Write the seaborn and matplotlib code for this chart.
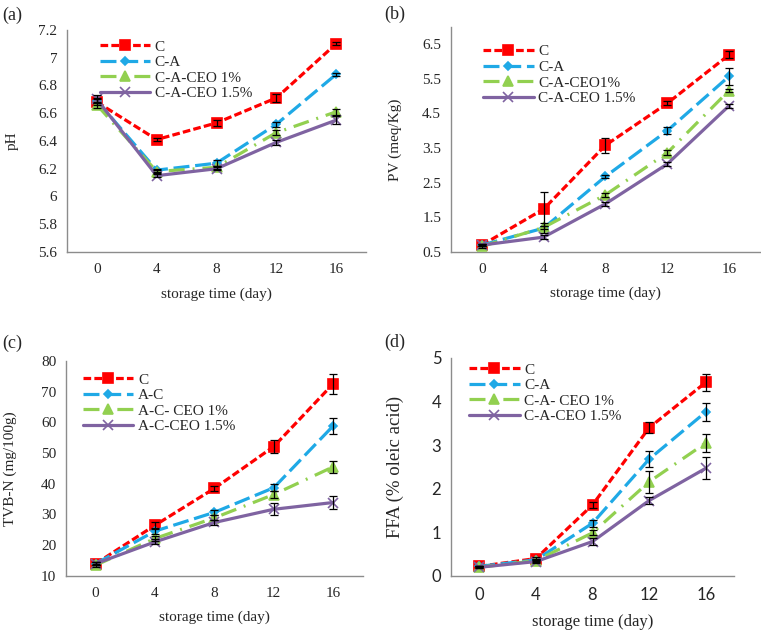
import numpy as np
import matplotlib
matplotlib.use("Agg")
import matplotlib.pyplot as plt
import seaborn as sns

sns.set_style("white")
plt.rcParams["font.family"] = ["Liberation Serif", "DejaVu Serif"]

days = ["0", "4", "8", "12", "16"]

# (a) pH
ph_c = [6.68, 6.41, 6.53, 6.71, 7.10]
ph_ca = [6.69, 6.19, 6.24, 6.52, 6.88]
ph_ceo1 = [6.66, 6.18, 6.21, 6.46, 6.61]
ph_ceo15 = [6.70, 6.15, 6.20, 6.39, 6.55]
ph_c_err = [0.02, 0.01, 0.02, 0.03, 0.01]
ph_ca_err = [0.02, 0.01, 0.02, 0.02, 0.01]
ph_ceo1_err = [0.02, 0.01, 0.01, 0.02, 0.02]
ph_ceo15_err = [0.03, 0.01, 0.01, 0.02, 0.03]

# (b) PV
pv_c = [0.70, 1.74, 3.58, 4.79, 6.19]
pv_ca = [0.70, 1.19, 2.68, 4.00, 5.57]
pv_ceo1 = [0.66, 1.21, 2.15, 3.36, 5.16]
pv_ceo15 = [0.70, 0.93, 1.89, 3.04, 4.72]
pv_c_err = [0.03, 0.48, 0.22, 0.06, 0.10]
pv_ca_err = [0.03, 0.15, 0.05, 0.10, 0.25]
pv_ceo1_err = [0.03, 0.05, 0.05, 0.07, 0.05]
pv_ceo15_err = [0.03, 0.05, 0.05, 0.05, 0.05]

# (c) TVB-N
tv_c = [14.0, 26.5, 38.5, 52.1, 72.5]
tv_ac = [14.0, 24.6, 30.7, 38.7, 58.8]
tv_ceo1 = [13.5, 22.2, 28.9, 36.5, 45.5]
tv_ceo15 = [14.0, 21.1, 27.4, 31.7, 33.9]
tv_c_err = [0.5, 1.0, 0.8, 2.2, 3.3]
tv_ac_err = [0.5, 0.8, 0.8, 1.2, 2.5]
tv_ceo1_err = [0.5, 0.8, 0.8, 1.2, 2.0]
tv_ceo15_err = [0.5, 0.8, 0.8, 2.0, 2.2]

# (d) FFA
ffa_c = [0.22, 0.40, 1.63, 3.40, 4.44]
ffa_ca = [0.22, 0.37, 1.21, 2.68, 3.76]
ffa_ceo1 = [0.20, 0.35, 0.99, 2.16, 3.05]
ffa_ceo15 = [0.20, 0.33, 0.79, 1.73, 2.47]
ffa_c_err = [0.02, 0.03, 0.06, 0.13, 0.20]
ffa_ca_err = [0.02, 0.03, 0.08, 0.18, 0.20]
ffa_ceo1_err = [0.02, 0.03, 0.06, 0.25, 0.20]
ffa_ceo15_err = [0.02, 0.03, 0.08, 0.08, 0.25]

red, blue, green, purple = "#FF0000", "#1FA9E6", "#92D050", "#7F63A1"
styles = [
    dict(color=red, marker="s", markersize=6.5, dashes=(2.4, 1.0)),
    dict(color=blue, marker="D", markersize=4.5, dashes=(5.0, 1.8)),
    dict(color=green, marker="^", markersize=6.5, dashes=(5.0, 2.5, 0.6, 2.5)),
    dict(color=purple, marker="x", markersize=6.5, dashes=(None, None)),
]

panels = [
    dict(rect=[0.088, 0.6006, 0.393, 0.352], series=[ph_c, ph_ca, ph_ceo1, ph_ceo15],
         errs=[ph_c_err, ph_ca_err, ph_ceo1_err, ph_ceo15_err],
         labels=["C", "C-A", "C-A-CEO 1%", "C-A-CEO 1.5%"],
         ylim=(5.6, 7.2), yticks=np.arange(5.6, 7.21, 0.2), ylabel="pH",
         leg=(0.11, 0.955), letter="(a)", lpos=(0.003, 0.975), ylx=0.016, xly=0.534,
         ysans=False, ylsize=11),
    dict(rect=[0.5926, 0.6006, 0.406, 0.357], series=[pv_c, pv_ca, pv_ceo1, pv_ceo15],
         errs=[pv_c_err, pv_ca_err, pv_ceo1_err, pv_ceo15_err],
         labels=["C", "C-A", "C-A-CEO1%", "C-A-CEO 1.5%"],
         ylim=(0.5, 7.0), yticks=np.arange(0.5, 6.51, 1.0), ylabel="PV (meq/Kg)",
         leg=(0.104, 0.92), letter="(b)", lpos=(0.505, 0.978), ylx=0.52, xly=0.536,
         ysans=False, ylsize=11),
    dict(rect=[0.0867, 0.0872, 0.390, 0.341], series=[tv_c, tv_ac, tv_ceo1, tv_ceo15],
         errs=[tv_c_err, tv_ac_err, tv_ceo1_err, tv_ceo15_err],
         labels=["C", "A-C", "A-C- CEO 1%", "A-C-CEO 1.5%"],
         ylim=(10, 80), yticks=np.arange(10, 81, 10), ylabel="TVB-N (mg/100g)",
         leg=(0.057, 0.944), letter="(c)", lpos=(0.003, 0.456), ylx=0.014, xly=0.021,
         ysans=False, ylsize=11),
    dict(rect=[0.5926, 0.0872, 0.372, 0.3455], series=[ffa_c, ffa_ca, ffa_ceo1, ffa_ceo15],
         errs=[ffa_c_err, ffa_ca_err, ffa_ceo1_err, ffa_ceo15_err],
         labels=["C", "C-A", "C-A- CEO 1%", "C-A-CEO 1.5%"],
         ylim=(0, 5), yticks=np.arange(0, 5.1, 1), ylabel="FFA (% oleic acid)",
         leg=(0.064, 0.977), letter="(d)", lpos=(0.505, 0.458), ylx=0.52, xly=0.015,
         ysans=True, ylsize=13.5),
]

fig = plt.figure(figsize=(7.61, 6.31), dpi=100)
pos = np.arange(len(days))
spine_col = "#8C8C8C"

for p in panels:
    ax = fig.add_axes(p["rect"])
    for vals, err, lab, st in zip(p["series"], p["errs"], p["labels"], styles):
        sns.lineplot(x=pos, y=vals, ax=ax, color=st["color"], marker=st["marker"],
                     markersize=st["markersize"], markeredgecolor=st["color"],
                     markeredgewidth=1.2, linewidth=2.3, label=lab, zorder=3)
        line = ax.get_lines()[-1]
        if st["dashes"][0] is not None:
            line.set_dashes(st["dashes"])
        ax.errorbar(pos, vals, yerr=err, fmt="none", ecolor="black", elinewidth=0.9,
                    capsize=3, capthick=0.9, zorder=4)
    ax.set_xlim(-0.5, len(days) - 0.5)
    ax.set_ylim(*p["ylim"])
    ax.set_xticks(pos)
    ax.set_xticklabels(days)
    ax.set_xticks(np.arange(-0.5, len(days), 1.0), minor=True)
    ax.tick_params(axis="x", which="major", length=0, pad=8, labelsize=11)
    ax.tick_params(axis="x", which="minor", length=5, width=1, color=spine_col, direction="out")
    ax.set_yticks(p["yticks"])
    ax.set_yticklabels([f"{v:g}" for v in p["yticks"]])
    ax.tick_params(axis="y", length=4, width=1, color=spine_col, direction="out", labelsize=11, pad=3)
    if p["ysans"]:
        for t in ax.get_yticklabels() + ax.get_xticklabels():
            t.set_fontfamily(["Lato", "DejaVu Sans"])
            t.set_fontsize(12)
    for s in ["top", "right"]:
        ax.spines[s].set_visible(False)
    for s in ["left", "bottom"]:
        ax.spines[s].set_color(spine_col)
        ax.spines[s].set_linewidth(1)
    ax.set_xlabel("")
    ax.set_ylabel("")
    leg = ax.legend(loc="upper left", bbox_to_anchor=p["leg"], frameon=False, fontsize=11,
                    handlelength=3.3, handletextpad=0.3, labelspacing=0.12, borderpad=0,
                    borderaxespad=0)
    r = p["rect"]
    fig.text(p["lpos"][0], p["lpos"][1], p["letter"], fontsize=13, va="center", ha="left")
    fig.text(p["ylx"], r[1] + r[3] / 2, p["ylabel"], fontsize=p["ylsize"], rotation=90,
             va="center", ha="center")
    fig.text(r[0] + r[2] / 2, p["xly"], "storage time (day)",
             fontsize=12 if p["ysans"] else 11, va="center", ha="center")

fig.savefig("out.png", dpi=100, facecolor="white")
